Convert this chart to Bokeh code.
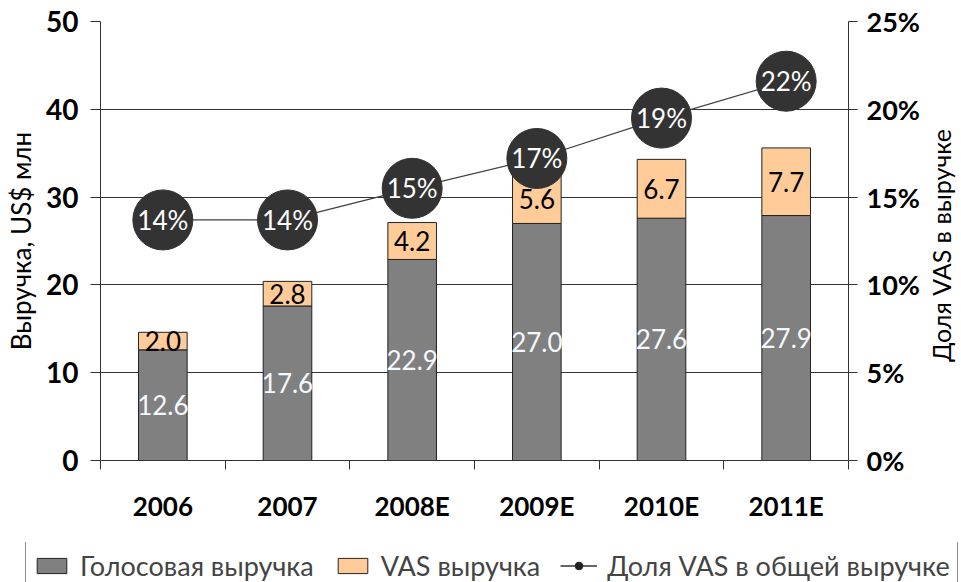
import math
from bokeh.plotting import figure
from bokeh.layouts import column, row
from bokeh.models import (ColumnDataSource, Range1d, LinearAxis, FixedTicker, Legend,
                          LegendItem)
from bokeh.core.properties import value
from bokeh.embed import file_html
from bokeh.resources import INLINE

categories = ["2006", "2007", "2008E", "2009E", "2010E", "2011E"]
voice = [12.6, 17.6, 22.9, 27.0, 27.6, 27.9]
vas = [2.0, 2.8, 4.2, 5.6, 6.7, 7.7]
vas_share = [13.7, 13.7, 15.5, 17.2, 19.5, 21.6]
share_labels = ["14%", "14%", "15%", "17%", "19%", "22%"]
left_ticks = [0, 10, 20, 30, 40, 50]
right_ticks = [0, 5, 10, 15, 20, 25]
left_title = "Выручка, US$ млн"
right_title = "Доля VAS в выручке"
legend_labels = ["Голосовая выручка", "VAS выручка", "Доля VAS в общей выручке"]

FONT = "Lato"
VOICE_C, VAS_C, DOT_C = "#808080", "#FFCC99", "#333333"
xs = [i + 0.5 for i in range(len(categories))]
total = [a + b for a, b in zip(voice, vas)]

src = ColumnDataSource(dict(
    x=xs, voice=voice, vas=vas, total=total,
    voice_mid=[v / 2 for v in voice],
    vas_mid=[v + s / 2 for v, s in zip(voice, vas)],
    voice_lbl=[f"{v:.1f}" for v in voice],
    vas_lbl=[f"{s:.1f}" for s in vas],
    share=vas_share, share_lbl=share_labels,
))

W_TOTAL = 958
W_TITLE = 36
W = W_TOTAL - W_TITLE
H = 542
p = figure(width=W, height=H, output_backend="svg", toolbar_location=None,
           x_range=Range1d(0, len(categories)), y_range=Range1d(0, 50),
           min_border_left=100, min_border_right=W - 852, min_border_top=21,
           min_border_bottom=H - 460)
p.outline_line_color = None
p.extra_y_ranges = {"pct": Range1d(0, 25)}

# axes
p.xaxis.ticker = FixedTicker(ticks=xs, minor_ticks=list(range(len(categories) + 1)))
p.xaxis.major_label_overrides = {x: c for x, c in zip(xs, categories)}
p.xaxis.major_tick_line_color = None
p.xaxis.major_tick_out = 0
p.xaxis.major_tick_in = 0
p.xaxis.minor_tick_line_color = "#333333"
p.xaxis.minor_tick_out = 9
p.xaxis.minor_tick_in = 0
p.xaxis.major_label_standoff = 20
p.xaxis.major_label_text_font = FONT
p.xaxis.major_label_text_font_style = "bold"
p.xaxis.major_label_text_font_size = "26px"
p.xaxis.major_label_text_color = "black"
p.xaxis.axis_line_color = "#333333"

p.yaxis.ticker = FixedTicker(ticks=left_ticks)
p.yaxis.major_tick_out = 10
p.yaxis.major_tick_in = 0
p.yaxis.major_label_standoff = 12
p.yaxis.major_label_text_font = FONT
p.yaxis.major_label_text_font_style = "bold"
p.yaxis.major_label_text_font_size = "28px"
p.yaxis.major_label_text_color = "black"
p.yaxis.axis_line_color = "#333333"
p.yaxis.major_tick_line_color = "#333333"
p.yaxis.minor_tick_line_color = None
p.yaxis.axis_label = left_title
p.yaxis.axis_label_text_font = FONT
p.yaxis.axis_label_text_font_style = "normal"
p.yaxis.axis_label_text_font_size = "26px"
p.yaxis.axis_label_text_color = "black"
p.yaxis.axis_label_standoff = 6

raxis = LinearAxis(y_range_name="pct", ticker=FixedTicker(ticks=right_ticks))
raxis.major_label_overrides = {t: f"{t}%" for t in right_ticks}
raxis.major_tick_out = 9
raxis.major_tick_in = 0
raxis.major_label_standoff = 9
raxis.major_label_text_font = FONT
raxis.major_label_text_font_style = "bold"
raxis.major_label_text_font_size = "27px"
raxis.major_label_text_color = "black"
raxis.axis_line_color = "#333333"
raxis.major_tick_line_color = "#333333"
raxis.minor_tick_line_color = None
p.add_layout(raxis, "right")

p.xgrid.grid_line_color = None
p.ygrid.ticker = FixedTicker(ticks=left_ticks)
p.ygrid.grid_line_color = "#333333"
p.ygrid.grid_line_width = 1

# bars
bw = 0.39
p.vbar(x="x", bottom=0, top="voice", width=bw, source=src,
       fill_color=VOICE_C, line_color="#222222", line_width=1)
p.vbar(x="x", bottom="voice", top="total", width=bw, source=src,
       fill_color=VAS_C, line_color="#222222", line_width=1)

p.text(x="x", y="voice_mid", text="voice_lbl", source=src, text_align="center",
       text_baseline="middle", text_color="#F4F8FF", text_font=value(FONT),
       text_font_size="26px")
p.text(x="x", y="vas_mid", text="vas_lbl", source=src, text_align="center",
       text_baseline="middle", text_color="black", text_font=value(FONT),
       text_font_size="26px")

# share line
p.line(x="x", y="share", source=src, y_range_name="pct",
       line_color="#404040", line_width=1.2)
p.scatter(x="x", y="share", source=src, y_range_name="pct", size=60,
          fill_color=DOT_C, line_color=DOT_C)
p.text(x="x", y="share", text="share_lbl", source=src, y_range_name="pct",
       text_align="center", text_baseline="middle", text_color="white",
       text_font=value(FONT), text_font_size="26px")

# right-hand title strip (reads bottom-to-top like the reference)
tf = figure(width=W_TITLE, height=H, output_backend="svg", toolbar_location=None,
            x_range=Range1d(0, 1), y_range=Range1d(0, 1),
            x_axis_location=None, y_axis_location=None,
            min_border_left=0, min_border_right=0, min_border_top=0, min_border_bottom=0)
tf.outline_line_color = None
tf.xgrid.visible = False
tf.ygrid.visible = False
tf.text(x=[0.5], y=[0.5], text=[right_title], angle=math.pi / 2, text_align="center",
        text_baseline="middle", text_color="black", text_font=value(FONT),
        text_font_size="25px", y_offset=-26)

# legend strip (separate figure whose frame spans the full width)
lf = figure(width=W_TOTAL, height=40, output_backend="svg", toolbar_location=None,
            x_range=Range1d(100, 101), y_range=Range1d(100, 101),
            x_axis_location=None, y_axis_location=None,
            min_border_left=0, min_border_right=0, min_border_top=0, min_border_bottom=0)
lf.outline_line_color = None
lf.xgrid.visible = False
lf.ygrid.visible = False
for f in (p, tf, lf):
    if hasattr(f, "frame_align"):
        f.frame_align = False
g1 = lf.vbar(x="x", top="voice", width=0.1, source=src, fill_color=VOICE_C, line_color="#222222")
g2 = lf.vbar(x="x", top="vas", width=0.1, source=src, fill_color=VAS_C, line_color="#222222")
g3 = lf.line(x="x", y="share", source=src, line_color="#333333", line_width=1.5)
g4 = lf.scatter(x="x", y="share", source=src, size=16, fill_color="#222222", line_color="#222222")

legend = Legend(items=[
    LegendItem(label=legend_labels[0], renderers=[g1]),
    LegendItem(label=legend_labels[1], renderers=[g2]),
    LegendItem(label=legend_labels[2], renderers=[g3, g4]),
], orientation="horizontal", location=(25, -8))
legend.label_text_font = FONT
legend.label_text_font_size = "27px"
legend.border_line_color = "#222222"
legend.border_line_width = 1
legend.glyph_width = 37
legend.glyph_height = 19
legend.spacing = 20
legend.padding = 7
legend.margin = 0
legend.label_standoff = 10
legend.background_fill_alpha = 1
lf.add_layout(legend, "center")

layout = column(row(p, tf, spacing=0), lf, spacing=0)
open("out.html", "w").write(file_html(layout, INLINE))
